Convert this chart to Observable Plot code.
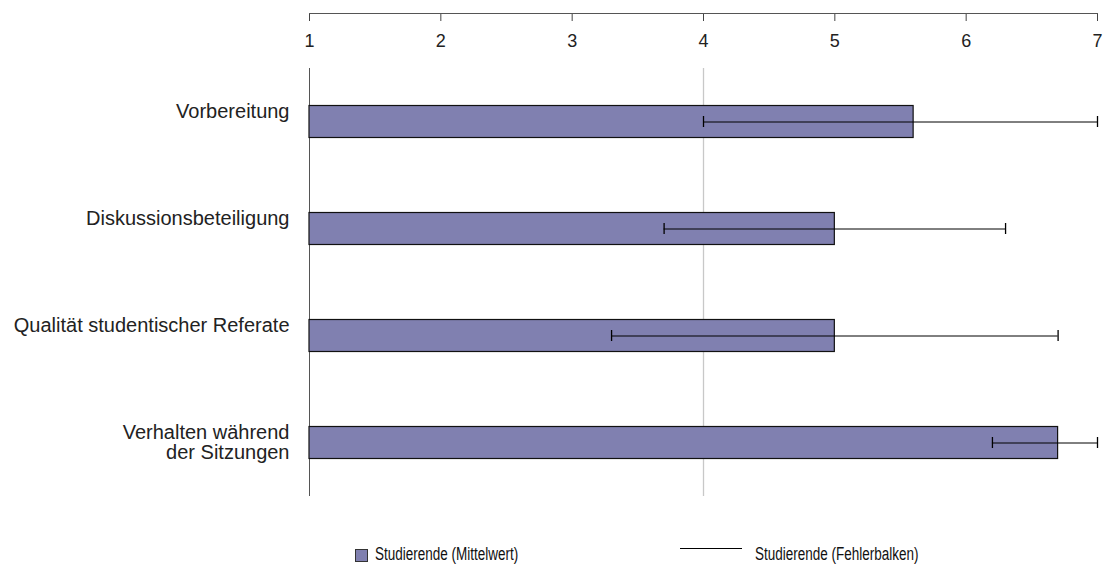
<!DOCTYPE html>
<html>
<head>
<meta charset="utf-8">
<script src="https://cdn.jsdelivr.net/npm/d3@7"></script>
<script src="https://cdn.jsdelivr.net/npm/@observablehq/plot@0.6"></script>
<style>
  body { margin: 0; background: #fff; font-family: "Liberation Sans", Arial, sans-serif; }
  #chart { position: relative; width: 1108px; }
  #legend { position: relative; width: 1108px; height: 46px; color: #111; }
  .sw { position: absolute; left: 355px; top: 29px; width: 11px; height: 11px; background: #8080b0; border: 1px solid #333; }
  .ln { position: absolute; left: 680px; top: 28px; width: 62px; height: 0; border-top: 1.5px solid #000; }
  .lt { position: absolute; top: 25px; font-size: 18px; line-height: 18px; transform: scaleX(0.75); transform-origin: 0 0; white-space: nowrap; }
</style>
</head>
<body>
<div id="chart"></div>
<div id="legend">
  <div class="sw"></div><div class="lt" style="left:375px">Studierende (Mittelwert)</div>
  <div class="ln"></div><div class="lt" style="left:755px">Studierende (Fehlerbalken)</div>
</div>
<script>
const categories = ["Vorbereitung", "Diskussionsbeteiligung", "Qualität studentischer Referate", "Verhalten während\nder Sitzungen"];
const means = [5.6, 5.0, 5.0, 6.7];
const lows = [4.0, 3.7, 3.3, 6.2];
const highs = [7.0, 6.3, 6.7, 7.0];
const xTicks = [1, 2, 3, 4, 5, 6, 7];
const refLine = 4;
const baseLine = 1;

const data = categories.map((c, i) => ({cat: c, mean: means[i], lo: lows[i], hi: highs[i]}));
const vlines = [];
for (const c of categories) {
  vlines.push({cat: c, x: refLine, kind: "ref"});
  vlines.push({cat: c, x: baseLine, kind: "base"});
}

const chart = Plot.plot({
  width: 1108,
  height: 520,
  marginLeft: 309,
  marginRight: 11,
  marginTop: 13,
  marginBottom: 24,
  style: {fontFamily: "'Liberation Sans', Arial, sans-serif", background: "#fff"},
  x: {domain: [1, 7], axis: null},
  y: {domain: categories, padding: 0, range: [67, 496], axis: null},
  marks: [
    Plot.frame({anchor: "top", stroke: "#555"}),
    Plot.axisX({anchor: "top", ticks: xTicks, tickSize: 7, dy: 7, tickFormat: () => "", stroke: "#444"}),
    Plot.text(xTicks, {x: d => d, frameAnchor: "top", dy: 21, text: d => String(d), fontSize: 18, fill: "#222"}),
    Plot.ruleX(vlines.filter(d => d.kind === "ref"), {x: "x", y1: "cat", y2: "cat", stroke: "#c8c8c8", strokeWidth: 1.3}),
    Plot.ruleX(vlines.filter(d => d.kind === "base"), {x: "x", y1: "cat", y2: "cat", stroke: "#555"}),
    Plot.barX(data, {x1: () => baseLine, x2: "mean", y: "cat", fill: "#8080b0", stroke: "#111", strokeWidth: 1.2, insetTop: 37.5, insetBottom: 37.5}),
    Plot.ruleY(data, {x1: "lo", x2: "hi", y: "cat", stroke: "#000", strokeWidth: 1}),
    Plot.tickX(data, {x: "lo", y: "cat", stroke: "#000", strokeWidth: 1.3, insetTop: 48, insetBottom: 48}),
    Plot.tickX(data, {x: "hi", y: "cat", stroke: "#000", strokeWidth: 1.3, insetTop: 48, insetBottom: 48}),
    Plot.text(categories, {y: d => d, frameAnchor: "left", textAnchor: "end", lineAnchor: "top", dx: -20, dy: -18, text: d => d, fontSize: 20, lineHeight: 1.0, fill: "#222"})
  ]
});
document.getElementById("chart").appendChild(chart);
</script>
</body>
</html>
